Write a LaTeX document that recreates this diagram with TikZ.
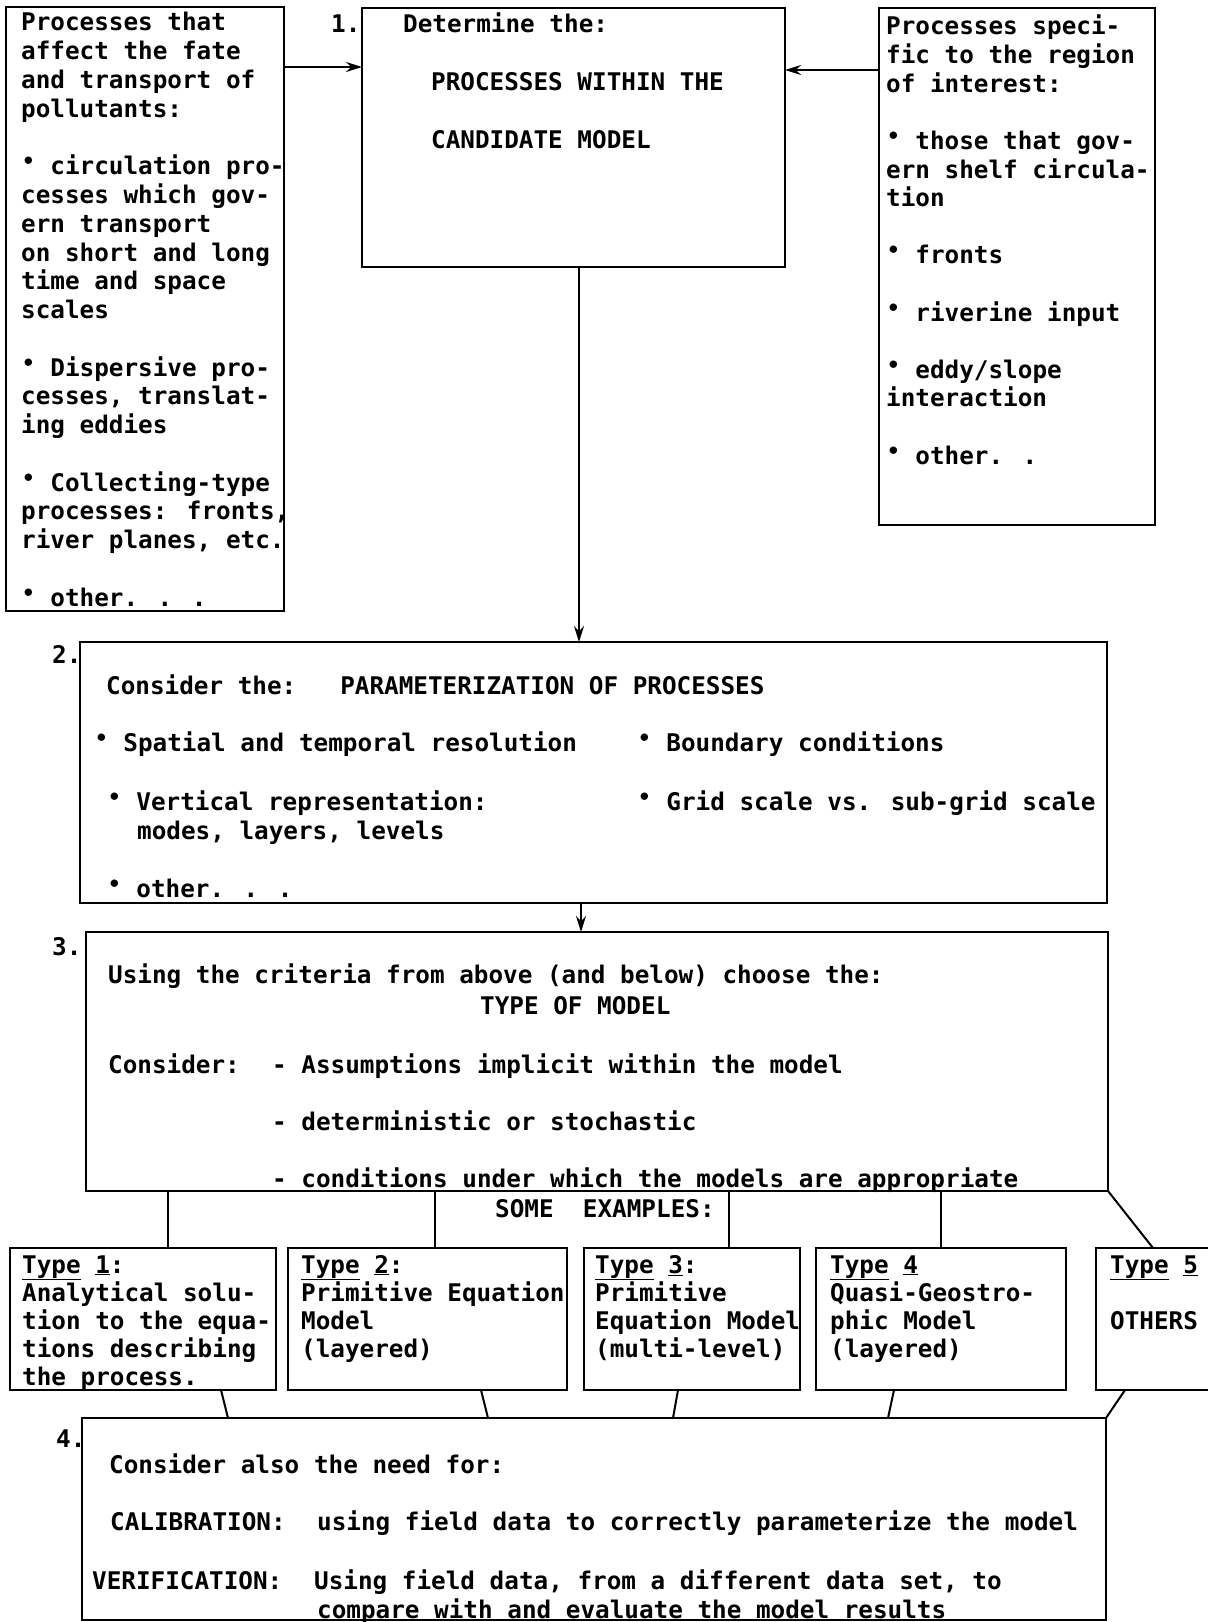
\documentclass[tikz,border=0pt]{standalone}
\usepackage{fontspec}
\setmainfont{DejaVu Sans Mono}
\usetikzlibrary{arrows.meta}
\newcommand{\mybul}{\makebox[0.602em]{\raisebox{0.24em}{\fontsize{21bp}{21bp}\selectfont •}}}
\begin{document}
\begin{tikzpicture}[x=1bp,y=-1bp,
  box/.style={draw,line width=2.4bp,inner sep=0pt,outer sep=0pt},
  txt/.style={anchor=base west,inner sep=0pt,align=flush left,text width=420bp,
    font=\bfseries\fontsize{24.3bp}{28.6bp}\selectfont},
  lbl/.style={anchor=base west,inner sep=0pt,font=\bfseries\fontsize{24.3bp}{28.6bp}\selectfont},
  arr/.style={line width=2bp,-{Stealth[length=16bp,width=10bp]}},
  ln/.style={line width=2bp}]
\useasboundingbox (0,0) rectangle (1207,1622);
% boxes
\node[box,minimum width=278bp,minimum height=604bp] (lbox) at (145,309) {};
\node[box,minimum width=423bp,minimum height=259bp] (b1) at (573.5,137.5) {};
\node[box,minimum width=276bp,minimum height=517bp] (rbox) at (1017,266.5) {};
\node[box,minimum width=1027bp,minimum height=261bp] (b2) at (593.5,772.5) {};
\node[box,minimum width=1022bp,minimum height=259bp] (b3) at (597,1061.5) {};
\node[box,minimum width=266bp,minimum height=142bp] (t1) at (143,1319) {};
\node[box,minimum width=279bp,minimum height=142bp] (t2) at (427.5,1319) {};
\node[box,minimum width=216bp,minimum height=142bp] (t3) at (692,1319) {};
\node[box,minimum width=250bp,minimum height=142bp] (t4) at (941,1319) {};
\node[box,minimum width=130bp,minimum height=142bp] (t5) at (1161,1319) {};
\node[box,minimum width=1024bp,minimum height=202bp] (b4) at (594,1519) {};
% helper coordinates
\coordinate (yA) at (0,67);
\coordinate (yB) at (0,70);
\coordinate (xM) at (579,0);
\coordinate (xN) at (581,0);
\coordinate (x1) at (168,0);
\coordinate (x2) at (435,0);
\coordinate (x3) at (729,0);
\coordinate (x5) at (1153,0);
\coordinate (s1a) at (221,0); \coordinate (s1b) at (228,0);
\coordinate (s2a) at (481,0); \coordinate (s2b) at (488,0);
\coordinate (s3a) at (678,0); \coordinate (s3b) at (673,0);
\coordinate (s4a) at (894,0); \coordinate (s4b) at (888,0);
\coordinate (s5a) at (1125,0);
% connectors
\draw[arr] (lbox.east |- yA) -- (b1.west |- yA);
\draw[arr] (rbox.west |- yB) -- (b1.east |- yB);
\draw[arr] (xM |- b1.south) -- (xM |- b2.north);
\draw[arr] (xN |- b2.south) -- (xN |- b3.north);
\draw[ln] (x1 |- b3.south) -- (x1 |- t1.north);
\draw[ln] (x2 |- b3.south) -- (x2 |- t2.north);
\draw[ln] (x3 |- b3.south) -- (x3 |- t3.north);
\draw[ln] (t4.north |- b3.south) -- (t4.north);
\draw[ln] (b3.south east) -- (x5 |- t5.north);
\draw[ln] (s1a |- t1.south) -- (s1b |- b4.north);
\draw[ln] (s2a |- t2.south) -- (s2b |- b4.north);
\draw[ln] (s3a |- t3.south) -- (s3b |- b4.north);
\draw[ln] (s4a |- t4.south) -- (s4b |- b4.north);
\draw[ln] (s5a |- t5.south) -- (b4.north east);
% left box text
\node[txt,font=\bfseries\fontsize{24.3bp}{28.75bp}\selectfont] (ltxt) at (21,31) {Processes that\\affect the fate\\and transport of\\pollutants:\\[\baselineskip]%
\mybul{} circulation pro-\\cesses which gov-\\ern transport\\on short and long\\time and space\\scales\\[\baselineskip]%
\mybul{} Dispersive pro-\\cesses, translat-\\ing eddies\\[\baselineskip]%
\mybul{} Collecting-type\\processes: fronts,\\river planes, etc.\\[\baselineskip]%
\mybul{} other. . .};
% box 1 text
\node[lbl] (n1) at (331,33) {1.};
\node[lbl] (d1) at (403,33) {Determine the:};
\node[lbl] (d2) at (431,90) {PROCESSES WITHIN THE};
\node[lbl] (d3) at (431,148) {CANDIDATE MODEL};
% right box text
\node[txt] (rtxt) at (886,35) {Processes speci-\\fic to the region\\of interest:\\[\baselineskip]%
\mybul{} those that gov-\\ern shelf circula-\\tion\\[\baselineskip]%
\mybul{} fronts\\[\baselineskip]%
\mybul{} riverine input\\[\baselineskip]%
\mybul{} eddy/slope\\interaction\\[\baselineskip]%
\mybul{} other. .};
% box 2 text
\node[lbl] (n2) at (52,663) {2.};
\node[lbl] (p1) at (106,694) {Consider the:~~~PARAMETERIZATION OF PROCESSES};
\node[lbl] (p2) at (94,751) {\mybul{} Spatial and temporal resolution};
\node[lbl] (p3) at (637,751) {\mybul{} Boundary conditions};
\node[lbl] (p4) at (107,810) {\mybul{} Vertical representation:};
\node[lbl] (p5) at (137,839) {modes, layers, levels};
\node[lbl] (p6) at (637,810) {\mybul{} Grid scale vs. sub-grid scale};
\node[lbl] (p7) at (107,897) {\mybul{} other. . .};
% box 3 text
\node[lbl] (n3) at (52,955) {3.};
\node[lbl] (q1) at (108,983) {Using the criteria from above (and below) choose the:};
\node[lbl] (q2) at (480,1014) {TYPE OF MODEL};
\node[lbl] (q3) at (108,1073) {Consider:};
\node[lbl] (q4) at (272,1073) {- Assumptions implicit within the model};
\node[lbl] (q5) at (272,1130) {- deterministic or stochastic};
\node[lbl] (q6) at (272,1187) {- conditions under which the models are appropriate};
\node[lbl] (q7) at (495,1217) {SOME~~EXAMPLES:};
% type boxes text
\node[txt,font=\bfseries\fontsize{24.3bp}{28bp}\selectfont] (tt1) at (22,1273) {\underline{Type} \underline{1}:\\Analytical solu-\\tion to the equa-\\tions describing\\the process.};
\node[txt,font=\bfseries\fontsize{24.3bp}{28bp}\selectfont] (tt2) at (301,1273) {\underline{Type} \underline{2}:\\Primitive Equation\\Model\\(layered)};
\node[txt,font=\bfseries\fontsize{24.3bp}{28bp}\selectfont] (tt3) at (595,1273) {\underline{Type} \underline{3}:\\Primitive\\Equation Model\\(multi-level)};
\node[txt,font=\bfseries\fontsize{24.3bp}{28bp}\selectfont] (tt4) at (830,1273) {\underline{Type} \underline{4}\\Quasi-Geostro-\\phic Model\\(layered)};
\node[txt,font=\bfseries\fontsize{24.3bp}{28bp}\selectfont] (tt5) at (1110,1273) {\underline{Type} \underline{5}\\[\baselineskip]OTHERS};
% box 4 text
\node[lbl] (n4) at (56,1447) {4.};
\node[lbl] (r1) at (109,1473) {Consider also the need for:};
\node[lbl] (r2) at (110,1530) {CALIBRATION:};
\node[lbl] (r3) at (317,1530) {using field data to correctly parameterize the model};
\node[lbl] (r4) at (92,1589) {VERIFICATION:};
\node[lbl] (r5) at (314,1589) {Using field data, from a different data set, to};
\node[lbl] (r6) at (317,1618) {compare with and evaluate the model results};
\end{tikzpicture}
\end{document}
